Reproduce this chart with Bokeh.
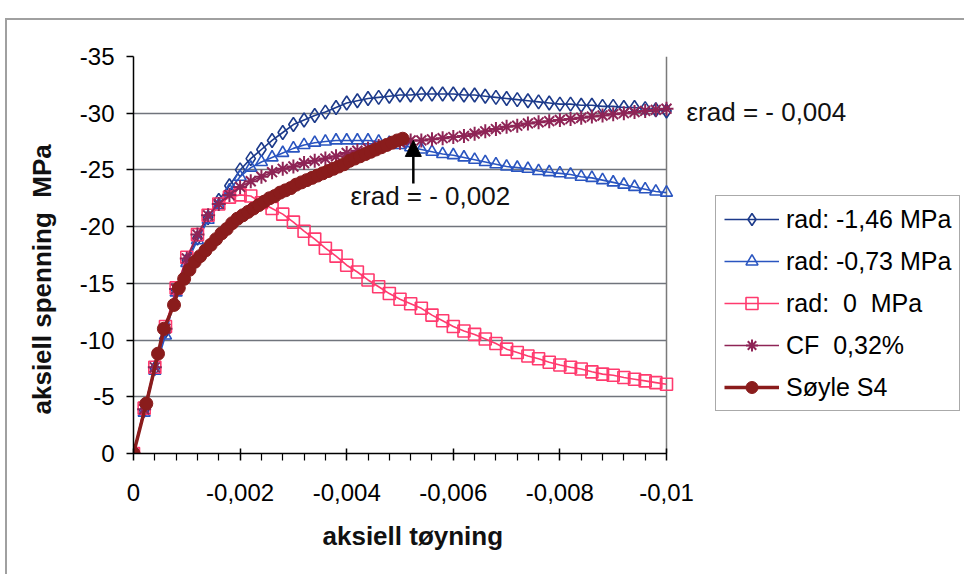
from bokeh.plotting import figure
from bokeh.models import (Range1d, FixedTicker, CustomJSTickFormatter, Legend, LegendItem,
                          Label, Arrow, NormalHead, Span, BoxAnnotation, Title)
from bokeh.embed import file_html
from bokeh.resources import INLINE

# ---- data (axial strain, axial stress MPa) ----
strain = [0, -0.0002, -0.0004, -0.0006, -0.0008, -0.001, -0.0012, -0.0014, -0.0016, -0.0018,
          -0.002, -0.0022, -0.0024, -0.0026, -0.0028, -0.003, -0.0032, -0.0034, -0.0036, -0.0038,
          -0.004, -0.0042, -0.0044, -0.0046, -0.0048, -0.005, -0.0052, -0.0054, -0.0056, -0.0058,
          -0.006, -0.0062, -0.0064, -0.0066, -0.0068, -0.007, -0.0072, -0.0074, -0.0076, -0.0078,
          -0.008, -0.0082, -0.0084, -0.0086, -0.0088, -0.009, -0.0092, -0.0094, -0.0096, -0.0098,
          -0.01]

rad_146 = [0, -3.8, -7.5, -10.8, -14.4, -17.0, -19.0, -20.8, -22.3, -23.6,
           -25.0, -26.0, -26.8, -27.6, -28.3, -29.0, -29.4, -29.8, -30.1, -30.5,
           -30.9, -31.1, -31.3, -31.4, -31.5, -31.6, -31.6, -31.7, -31.7, -31.7,
           -31.7, -31.6, -31.6, -31.5, -31.4, -31.3, -31.2, -31.1, -31.0, -30.9,
           -30.8, -30.8, -30.7, -30.7, -30.6, -30.6, -30.5, -30.5, -30.4, -30.3,
           -30.2]

rad_073 = [0, -3.6, -7.3, -10.4, -14.2, -16.8, -18.8, -20.6, -21.9, -23.2,
           -24.4, -25.2, -25.7, -26.1, -26.5, -26.9, -27.2, -27.4, -27.5, -27.6,
           -27.6, -27.6, -27.6, -27.5, -27.4, -27.2, -27.0, -26.8, -26.6, -26.4,
           -26.3, -26.1, -25.9, -25.7, -25.5, -25.3, -25.2, -25.1, -24.9, -24.8,
           -24.7, -24.6, -24.4, -24.3, -24.1, -23.9, -23.7, -23.5, -23.3, -23.1,
           -23.0]

rad_0 = [0, -4.0, -7.6, -11.2, -14.6, -17.3, -19.3, -21.0, -22.0, -22.6,
         -22.8, -22.7, -22.1, -21.6, -21.1, -20.4, -19.6, -18.9, -18.1, -17.4,
         -16.6, -16.0, -15.3, -14.7, -14.1, -13.6, -13.2, -12.8, -12.2, -11.7,
         -11.2, -10.8, -10.5, -10.1, -9.7, -9.2, -8.9, -8.6, -8.35, -8.05,
         -7.8, -7.6, -7.45, -7.2, -7.0, -6.9, -6.7, -6.55, -6.4, -6.25,
         -6.1]

cf_032 = [0, -3.9, -7.6, -11.0, -14.5, -17.2, -19.3, -21.0, -22.0, -22.8,
          -23.5, -24.0, -24.4, -24.8, -25.1, -25.3, -25.6, -25.8, -26.0, -26.2,
          -26.5, -26.7, -26.9, -27.1, -27.3, -27.4, -27.6, -27.6, -27.7, -27.8,
          -27.9, -28.0, -28.2, -28.4, -28.6, -28.8, -28.9, -29.1, -29.2, -29.3,
          -29.4, -29.5, -29.6, -29.7, -29.8, -29.9, -30.0, -30.1, -30.2, -30.3,
          -30.4]

s4_strain = [0, -0.00024, -0.00046, -0.00057, -0.00076, -0.00085, -0.00095, -0.00105, -0.00115,
             -0.00125, -0.00135, -0.00145, -0.00155, -0.00165, -0.00175, -0.00185, -0.00195,
             -0.00205, -0.00215, -0.00225, -0.00235, -0.00245, -0.00255, -0.00265, -0.00275,
             -0.00285, -0.00295, -0.00305, -0.00315, -0.00325, -0.00335, -0.00345, -0.00355,
             -0.00365, -0.00375, -0.00385, -0.00395, -0.00405, -0.00415, -0.00425, -0.00435,
             -0.00445, -0.00455, -0.00465, -0.00475, -0.00485, -0.00495, -0.00505]
s4_stress = [0, -4.4, -8.8, -11.0, -13.1, -14.6, -15.4, -16.2, -16.9, -17.4,
             -17.9, -18.4, -18.9, -19.4, -19.8, -20.3, -20.7, -21.0, -21.3, -21.6,
             -21.9, -22.2, -22.5, -22.7, -23.0, -23.2, -23.4, -23.7, -23.9, -24.1,
             -24.3, -24.5, -24.7, -24.9, -25.1, -25.3, -25.5, -25.8, -26.0, -26.2,
             -26.4, -26.6, -26.8, -27.0, -27.2, -27.4, -27.6, -27.75]

series_names = ["rad: -1,46 MPa", "rad: -0,73 MPa", "rad:  0  MPa", "CF  0,32%", "Søyle S4"]

x_ticks = [0, -0.002, -0.004, -0.006, -0.008, -0.01]
x_minor = [-0.0004, -0.0008, -0.0012, -0.0016, -0.0024, -0.0028, -0.0032, -0.0036,
           -0.0044, -0.0048, -0.0052, -0.0056, -0.0064, -0.0068, -0.0072, -0.0076,
           -0.0084, -0.0088, -0.0092, -0.0096]
y_ticks = [0, -5, -10, -15, -20, -25, -30, -35]
X_END = -0.01

FONT = "Liberation Sans"

# frame: 533 px for 0 .. -0.01, extended to the canvas edge so the legend and
# the right-hand annotation are not clipped
FRAME_W = 833
p = figure(width=959, height=556, output_backend="svg", toolbar_location=None,
           x_range=Range1d(0, X_END * FRAME_W / 533.0), y_range=Range1d(0, -35),
           min_border_left=126, min_border_right=0, min_border_top=36, min_border_bottom=123)
p.styles = {"margin-left": "5px", "margin-top": "18px",
            "border-left": "2px solid #a0a0a0", "border-top": "2px solid #a0a0a0"}
p.background_fill_color = "white"
p.border_fill_color = "white"
p.outline_line_color = None

fmt = CustomJSTickFormatter(code="return tick.toString().replace('.', ',');")

p.xaxis.ticker = FixedTicker(ticks=x_ticks, minor_ticks=x_minor)
p.xaxis.formatter = fmt
p.xaxis.bounds = (X_END, 0)
p.yaxis.ticker = FixedTicker(ticks=y_ticks, minor_ticks=[])
p.yaxis.formatter = fmt
for ax in (p.xaxis[0], p.yaxis[0]):
    ax.axis_line_color = "black"
    ax.axis_line_width = 1.5
    ax.major_tick_line_color = "black"
    ax.major_tick_line_width = 1.5
    ax.minor_tick_line_color = "black"
    ax.minor_tick_line_width = 1.2
    ax.major_label_text_font = FONT
    ax.major_label_text_font_size = "24px"
    ax.major_label_text_color = "black"
p.xaxis.major_tick_in = 5
p.xaxis.major_tick_out = 7
p.xaxis.minor_tick_in = 0
p.xaxis.minor_tick_out = 7
p.xaxis.major_label_standoff = 23
p.yaxis.major_tick_in = 0
p.yaxis.major_tick_out = 7
p.yaxis.minor_tick_out = 0
p.yaxis.major_label_standoff = 12

# axis titles (placed as side-panel titles so they centre on the 0 .. -0.01 part)
p.add_layout(Title(text="aksiell tøyning", align="left", offset=189, vertical_align="top",
                   standoff=34, text_font=FONT, text_font_style="bold", text_font_size="26px",
                   text_color="#111111"), "below")
p.add_layout(Title(text="aksiell spenning \u00a0MPa", align="left", offset=39,
                   vertical_align="top", standoff=36, text_font=FONT,
                   text_font_style="bold", text_font_size="26px", text_color="#111111"), "left")

p.xgrid.grid_line_color = None
yg = p.ygrid[0]
yg.ticker = FixedTicker(ticks=y_ticks)
yg.grid_line_color = "#70747c"
yg.grid_line_width = 1.5
if "cross_bounds" in yg.properties():
    yg.cross_bounds = (X_END, 0)
else:
    p.add_layout(BoxAnnotation(left=X_END, fill_color="white", fill_alpha=1.0,
                               line_color=None, level="underlay"))

# right border of the plot area
p.add_layout(Span(location=X_END, dimension="height", line_color="#7a7a7a", line_width=1.5,
                  level="underlay"))

c146 = "#1c3a8a"
c073 = "#2a55c0"
c0 = "#ff3a6e"
ccf = "#8e2456"
cs4 = "#8a1c1c"

l1 = p.line(strain, rad_146, line_color=c146, line_width=1.6)
m1 = p.scatter(strain, rad_146, marker="diamond", size=14, fill_color=None, line_color=c146, line_width=1.6)
l2 = p.line(strain, rad_073, line_color=c073, line_width=1.6)
m2 = p.scatter(strain, rad_073, marker="triangle", size=12, fill_color=None, line_color=c073, line_width=1.6)
l3 = p.line(strain, rad_0, line_color=c0, line_width=1.6)
m3 = p.scatter(strain, rad_0, marker="square", size=12, fill_color=None, line_color=c0, line_width=1.6)
l4 = p.line(strain, cf_032, line_color=ccf, line_width=1.6)
m4 = p.scatter(strain, cf_032, marker="asterisk", size=14, line_color=ccf, line_width=2)
l5 = p.line(s4_strain, s4_stress, line_color=cs4, line_width=3.5)
m5 = p.scatter(s4_strain, s4_stress, marker="circle", size=13, fill_color=cs4, line_color=cs4)

legend = Legend(items=[LegendItem(label=series_names[0], renderers=[l1, m1]),
                       LegendItem(label=series_names[1], renderers=[l2, m2]),
                       LegendItem(label=series_names[2], renderers=[l3, m3]),
                       LegendItem(label=series_names[3], renderers=[l4, m4]),
                       LegendItem(label=series_names[4], renderers=[l5, m5])],
                location=(582, 42))
legend.label_text_font = FONT
legend.label_text_font_size = "25px"
legend.label_text_color = "black"
legend.glyph_width = 55
legend.glyph_height = 30
legend.label_height = 30
legend.label_standoff = 7
legend.spacing = 12
legend.padding = 8
legend.margin = 0
legend.border_line_color = "#555555"
legend.border_line_width = 1.5
legend.background_fill_color = "white"
legend.background_fill_alpha = 1
p.add_layout(legend)

p.add_layout(Label(x=-0.010375, y=-30.1, text="εrad = - 0,004", text_font=FONT,
                   text_font_size="26px", text_baseline="middle", text_color="#111111"))
p.add_layout(Label(x=-0.00407, y=-22.7, text="εrad = - 0,002", text_font=FONT,
                   text_font_size="26px", text_baseline="middle", text_color="#111111"))
p.add_layout(Arrow(end=NormalHead(size=16, fill_color="black", line_color="black"),
                   x_start=-0.00525, y_start=-23.8, x_end=-0.00525, y_end=-27.6,
                   line_color="black", line_width=2.5))

open("out.html", "w").write(file_html(p, INLINE))
